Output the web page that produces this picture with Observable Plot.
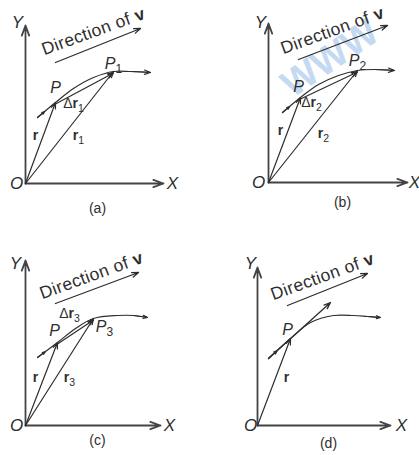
<!DOCTYPE html>
<html>
<head>
<meta charset="utf-8">
<script src="https://cdn.jsdelivr.net/npm/d3@7"></script>
<script src="https://cdn.jsdelivr.net/npm/@observablehq/plot@0.6"></script>
<style>
  html, body { margin: 0; padding: 0; background: #fff; }
  #chart svg { display: block; }
</style>
</head>
<body>
<div id="chart"></div>
<script>
// ---- Data (diagram geometry in local units, origin O of each panel = (0,0), y up) ----
const panelIds   = ["a", "b", "c", "d"];
const originX    = [25, 268, 25, 257];
const originY    = [272, 273, 30, 30];
const axisLenX   = [138, 139, 135, 133];
const axisLenY   = [158, 159, 165, 158];

const curveA = [[12,66],[30,81],[48,95],[68,106],[88,112],[105,112],[125,111]];
const curveB = [[14,70],[32,85],[50,98],[70,107],[89,112],[106,113],[126,112]];
const curveC = [[12,68],[32,83],[50,97],[68,107],[92,110],[108,110],[122,108]];
const curveD = [[11,67],[33,87],[53,103],[76,110],[96,110],[110,109],[123,108]];
const curves = [curveA, curveB, curveC, curveD];

const pointP   = [[30,81],[32,85],[32,83],[33,87]];
const pointPn  = [[88,112],[89,112],[68,107],null];
const dirFrom  = [[30,121],[30,123],[30,122],[30,120]];
const dirTo    = [[115,155],[119,157],[113,153],[110,152]];
const tangentD = [[11,67],[73,123]];

const watermarkText = ["WWW"];

const labels = [
  // panel a
  {p:0, kind:"axis", text:"Y", x:-8, y:161}, {p:0, kind:"axis", text:"X", x:147, y:0},
  {p:0, kind:"axis", text:"O", x:-9, y:0},   {p:0, kind:"cap", text:"(a)", x:72, y:-25},
  {p:0, kind:"point", text:"P", x:30, y:96},  {p:0, kind:"point", text:"P₁", x:88, y:120},
  {p:0, kind:"vec", text:"Δr₁", x:48, y:80},  {p:0, kind:"vec", text:"r", x:10, y:48},
  {p:0, kind:"vec", text:"r₁", x:53, y:48},   {p:0, kind:"dir", text:"Direction of v", x:68, y:152},
  // panel b
  {p:1, kind:"axis", text:"Y", x:-8, y:160}, {p:1, kind:"axis", text:"X", x:146, y:0},
  {p:1, kind:"axis", text:"O", x:-10, y:0},  {p:1, kind:"cap", text:"(b)", x:74, y:-20},
  {p:1, kind:"point", text:"P", x:30, y:96},  {p:1, kind:"point", text:"P₂", x:89, y:122},
  {p:1, kind:"vec", text:"Δr₂", x:43, y:80},  {p:1, kind:"vec", text:"r", x:12, y:52},
  {p:1, kind:"vec", text:"r₂", x:55, y:49},   {p:1, kind:"dir", text:"Direction of v", x:64, y:152},
  // panel c
  {p:2, kind:"axis", text:"Y", x:-10, y:162}, {p:2, kind:"axis", text:"X", x:144, y:0},
  {p:2, kind:"axis", text:"O", x:-9, y:0},    {p:2, kind:"cap", text:"(c)", x:72, y:-15},
  {p:2, kind:"point", text:"P", x:29, y:95},   {p:2, kind:"point", text:"P₃", x:79, y:99},
  {p:2, kind:"vec", text:"Δr₃", x:44, y:112},  {p:2, kind:"vec", text:"r", x:10, y:48},
  {p:2, kind:"vec", text:"r₃", x:44, y:48},    {p:2, kind:"dir", text:"Direction of v", x:66, y:150},
  // panel d
  {p:3, kind:"axis", text:"Y", x:-7, y:162}, {p:3, kind:"axis", text:"X", x:144, y:0},
  {p:3, kind:"axis", text:"O", x:-7, y:0},   {p:3, kind:"cap", text:"(d)", x:71, y:-18},
  {p:3, kind:"point", text:"P", x:30, y:96},  {p:3, kind:"vec", text:"r", x:29, y:48},
  {p:3, kind:"dir", text:"Direction of v", x:65, y:149}
];

// ---- Build global tables from the local geometry ----
const gx = (p, x) => originX[p] + x;
const gy = (p, y) => originY[p] + y;

const axes = [];
const vectors = [];
const thin = [];
const curvePts = [];
const curveHeads = [];
panelIds.forEach((id, p) => {
  axes.push({x1:gx(p,0), y1:gy(p,0), x2:gx(p,axisLenX[p]), y2:gy(p,0)});
  axes.push({x1:gx(p,0), y1:gy(p,0), x2:gx(p,0), y2:gy(p,axisLenY[p])});
  const P = pointP[p];
  vectors.push({x1:gx(p,0), y1:gy(p,0), x2:gx(p,P[0]), y2:gy(p,P[1])});
  const Pn = pointPn[p];
  if (Pn) {
    vectors.push({x1:gx(p,0), y1:gy(p,0), x2:gx(p,Pn[0]), y2:gy(p,Pn[1])});
    vectors.push({x1:gx(p,P[0]), y1:gy(p,P[1]-1.5), x2:gx(p,Pn[0]), y2:gy(p,Pn[1]-1.5)});
  }
  thin.push({x1:gx(p,dirFrom[p][0]), y1:gy(p,dirFrom[p][1]), x2:gx(p,dirTo[p][0]), y2:gy(p,dirTo[p][1])});
  const c = curves[p];
  c.forEach(([x, y]) => curvePts.push({p, x:gx(p,x), y:gy(p,y)}));
  const n = c.length;
  curveHeads.push({x1:gx(p,c[n-2][0]), y1:gy(p,c[n-2][1]), x2:gx(p,c[n-1][0]), y2:gy(p,c[n-1][1])});
  const s = c[0], t = c[1];
  curveHeads.push({x1:gx(p,s[0]), y1:gy(p,s[1]), x2:gx(p,s[0] + (t[0]-s[0])*0.4), y2:gy(p,s[1] + (t[1]-s[1])*0.4)});
});
thin.push({x1:gx(3,tangentD[0][0]), y1:gy(3,tangentD[0][1]), x2:gx(3,tangentD[1][0]), y2:gy(3,tangentD[1][1])});

const lab = labels.map(d => ({...d, gx: gx(d.p, d.x), gy: gy(d.p, d.y)}));
const byKind = k => lab.filter(d => d.kind === k);

const FONT = "'Liberation Sans', Arial, Helvetica, sans-serif";
const INK = "#2e2e2e";

const chart = Plot.plot({
  width: 419,
  height: 455,
  margin: 0,
  x: {domain: [0, 419], axis: null},
  y: {domain: [0, 455], axis: null},
  style: {background: "#fff", fontFamily: FONT, color: INK},
  marks: [
    // watermark (panel b)
    Plot.text(watermarkText, {x: () => gx(1, 17), y: () => gy(1, 94), text: d => d, rotate: -34,
      textAnchor: "start", fontSize: 38, fontWeight: "bold", fill: "#9cc2ec", fillOpacity: 0.6, fontFamily: FONT}),
    // axes
    Plot.arrow(axes, {x1:"x1", y1:"y1", x2:"x2", y2:"y2", stroke:"#444", strokeWidth:1.8,
      headLength:9, headAngle:40}),
    // path of the particle
    Plot.line(curvePts, {x:"x", y:"y", z:"p", curve:"catmull-rom", stroke:INK, strokeWidth:1.2}),
    Plot.arrow(curveHeads, {x1:"x1", y1:"y1", x2:"x2", y2:"y2", stroke:INK, strokeWidth:1.2,
      headLength:8, headAngle:40}),
    // position and displacement vectors
    Plot.arrow(vectors, {x1:"x1", y1:"y1", x2:"x2", y2:"y2", stroke:INK, strokeWidth:1.2,
      headLength:8, headAngle:40}),
    // direction of v arrows and tangent
    Plot.arrow(thin, {x1:"x1", y1:"y1", x2:"x2", y2:"y2", stroke:INK, strokeWidth:1.3,
      headLength:8, headAngle:40}),
    // labels
    Plot.text(byKind("axis"), {x:"gx", y:"gy", text:"text", fontSize:17, fontStyle:"italic", fill:INK}),
    Plot.text(byKind("cap"), {x:"gx", y:"gy", text:"text", fontSize:14, fill:INK}),
    Plot.text(byKind("point"), {x:"gx", y:"gy", text:"text", fontSize:16, fontStyle:"italic", fill:INK}),
    Plot.text(byKind("vec"), {x:"gx", y:"gy", text:"text", fontSize:14, fill:INK}),
    Plot.text(byKind("dir"), {x:"gx", y:"gy", text:"text", fontSize:17.5, rotate:-20, fill:INK})
  ]
});

// rich formatting of the labels: bold vectors, subscripts
const SUBS = "₀₁₂₃₄₅₆₇₈₉";
chart.querySelectorAll("text").forEach(el => {
  const t = el.textContent;
  if (t === "WWW") return;
  const isVec = /^Δ?r/.test(t);
  const isDir = t.startsWith("Direction");
  if (isDir) el.style.letterSpacing = "0.4px";
  let html = "";
  for (const ch of t) {
    const i = SUBS.indexOf(ch);
    if (i >= 0) html += `<tspan dy="0.35em" style="font-size:75%;font-style:normal;font-weight:normal">${i}</tspan>`;
    else if ((isVec && ch === "r") || (isDir && ch === "v")) html += `<tspan style="font-weight:bold">${ch}</tspan>`;
    else html += ch;
  }
  el.innerHTML = html;
});

document.getElementById("chart").appendChild(chart);
</script>
</body>
</html>
